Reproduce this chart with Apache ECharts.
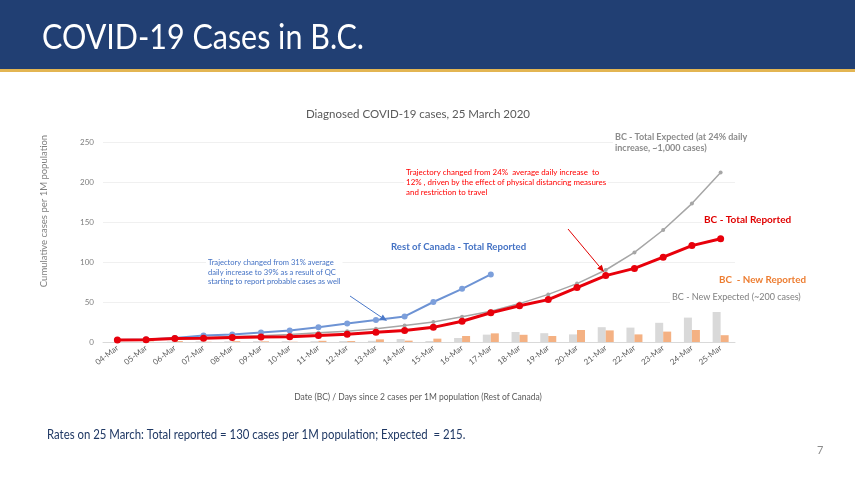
<!DOCTYPE html>
<html><head><meta charset="utf-8">
<script src="https://cdn.jsdelivr.net/npm/echarts@6/dist/echarts.min.js"></script>
<style>html,body{margin:0;padding:0;background:#fff}#c{width:855px;height:481px}</style>
</head><body><div id="c"></div>
<script>
const categories = ['04-Mar','05-Mar','06-Mar','07-Mar','08-Mar','09-Mar','10-Mar','11-Mar','12-Mar','13-Mar','14-Mar','15-Mar','16-Mar','17-Mar','18-Mar','19-Mar','20-Mar','21-Mar','22-Mar','23-Mar','24-Mar','25-Mar'];
const bcTotalReported = [2.5,2.8,4.5,4.6,5.5,6.3,6.5,8,9.8,12.2,14.3,18.3,26,36.6,45.4,53,68,83,92,106,120.5,129];
const bcTotalExpected = [2.5,2.8,4.3,5.2,6.5,7.8,9.5,11.5,13.5,16.5,20.5,25,31.5,38.5,48,59.5,73,90,112,140,173,212];
const rocTotalReported = [2.5,3,5,8,9.5,12,14.5,18.3,23,27.5,32,50,66.5,84.5,null,null,null,null,null,null,null,null];
const bcNewExpected = [0,0,0.5,0.8,0.8,1,1,1,1.2,1.5,3.7,1.2,5,9.2,12.5,11,9.5,18.5,18,24,30.5,37.5];
const bcNewReported = [0,0.5,1.2,0.3,1,0.8,0.3,1.5,1.2,3.3,1.7,4.2,7.5,10.8,9,7.5,15,14.5,9.5,13,15,8.5];
const yTicks = [0,50,100,150,200,250];

const F = 'Lato, "Open Sans", sans-serif';
function arrow(x1,y1,x2,y2,color){
  const a = Math.atan2(y2-y1,x2-x1), L=7, W=3;
  const bx = x2 - L*Math.cos(a), by = y2 - L*Math.sin(a);
  return [
    {type:'line',shape:{x1:x1,y1:y1,x2:bx,y2:by},style:{stroke:color,lineWidth:1},z:10},
    {type:'polygon',shape:{points:[[x2,y2],[bx+W*Math.sin(a),by-W*Math.cos(a)],[bx-W*Math.sin(a),by+W*Math.cos(a)]]},style:{fill:color},z:10}
  ];
}
function txt(x,y,text,size,color,weight,extra,bg){
  const st = {text:text,font:(weight||'normal')+' '+size+'px '+F,fill:color,lineHeight:size*1.25};
  if(bg){ st.backgroundColor='#ffffff'; st.padding=[1,2]; }
  return Object.assign({type:'text',x:x,y:y,style:st,z:5},extra||{});
}

const chart = echarts.init(document.getElementById('c'));
chart.setOption({
  animation:false,
  grid:{left:103,right:120,top:142,bottom:139},
  xAxis:{type:'category',data:categories,
    axisLine:{lineStyle:{color:'#d9d9d9'}},axisTick:{show:false},
    axisLabel:{rotate:38,fontSize:8,color:'#595959',fontFamily:F,margin:5,interval:0}},
  yAxis:{type:'value',min:0,max:250,interval:50,
    axisLine:{show:false},axisTick:{show:false},
    splitLine:{lineStyle:{color:'#f0f0f0'}},
    axisLabel:{fontSize:8,color:'#7f7f7f',fontFamily:F,margin:9,
      formatter:v=>yTicks.indexOf(v)>=0?String(v):''}},
  series:[
    {type:'bar',data:bcNewExpected,barWidth:8,barGap:'0%',itemStyle:{color:'#d9d9d9'},z:1},
    {type:'bar',data:bcNewReported,barWidth:8,barGap:'0%',itemStyle:{color:'#f4b183'},z:1},
    {type:'line',data:bcTotalExpected,symbol:'circle',symbolSize:4,lineStyle:{color:'#a6a6a6',width:1.5},itemStyle:{color:'#a6a6a6'},z:3},
    {type:'line',data:rocTotalReported,symbol:'circle',symbolSize:6,lineStyle:{color:'#6d93d4',width:2},itemStyle:{color:'#7c9fdb'},z:4},
    {type:'line',data:bcTotalReported,symbol:'circle',symbolSize:7,lineStyle:{color:'#e8000b',width:3},itemStyle:{color:'#e8000b'},z:5}
  ],
  graphic:[
    {type:'rect',shape:{x:0,y:0,width:855,height:69},style:{fill:'#213f73'},silent:true},
    {type:'rect',shape:{x:0,y:69,width:855,height:3},style:{fill:'#e3b552'},silent:true},
    txt(42,16,'COVID-19 Cases in B.C.',35,'#ffffff','normal',{scaleX:0.87}),
    {type:'text',x:418,y:108,style:{text:'Diagnosed COVID-19 cases, 25 March 2020',font:'11.5px '+F,fill:'#595959',align:'center'}},
    {type:'text',x:44,y:211,rotation:Math.PI/2,style:{text:'Cumulative cases per 1M population',font:'9.5px '+F,fill:'#7f7f7f',align:'center',verticalAlign:'middle'}},
    {type:'text',x:418,y:393,style:{text:'Date (BC) / Days since 2 cases per 1M population (Rest of Canada)',font:'8.5px '+F,fill:'#595959',align:'center'}},
    txt(613,130,'BC - Total Expected (at 24% daily\nincrease, ~1,000 cases)',9,'#8c8c8c','bold',null,true),
    txt(404,167,'Trajectory changed from 24%  average daily increase  to\n12% , driven by the effect of physical distancing measures\nand restriction to travel',7.7,'#ff0000','normal',{scaleX:1.03},true),
    txt(702,213,'BC - Total Reported',10,'#e00000','bold',null,true),
    txt(389,240,'Rest of Canada - Total Reported',9.6,'#4472c4','bold',null,true),
    txt(206,257,'Trajectory changed from 31% average\ndaily increase to 39% as a result of QC\nstarting to report probable cases as well',7.6,'#4472c4','normal',null,true),
    txt(717,273,'BC  - New Reported',9.8,'#ed7d31','bold',null,true),
    txt(670,290,'BC - New Expected (~200 cases)',9,'#7f7f7f','normal',null,true),
    ...arrow(350,296,387,321,'#4a78c8'),
    ...arrow(568,229,604,272,'#e00000'),
    txt(47,427,'Rates on 25 March: Total reported = 130 cases per 1M population; Expected  = 215.',12.5,'#1f3864','normal',{scaleX:0.91}),
    txt(817,444,'7',11,'#8c8c8c','normal')
  ]
});
</script></body></html>
